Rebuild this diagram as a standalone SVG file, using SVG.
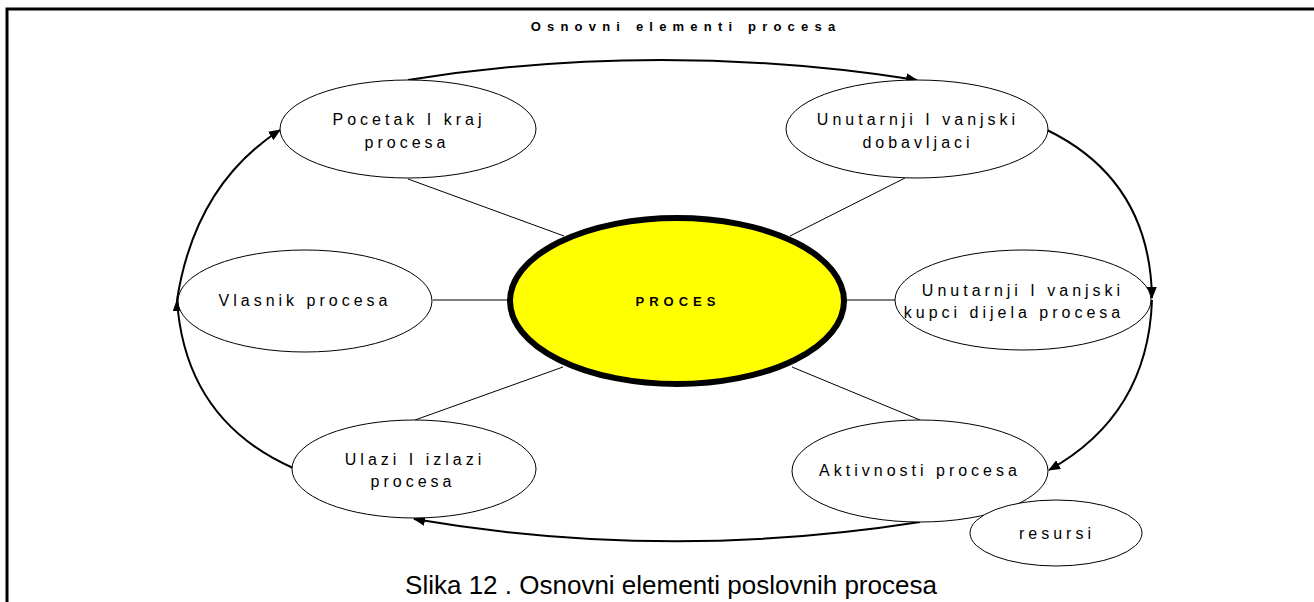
<svg xmlns="http://www.w3.org/2000/svg" width="1314" height="602" viewBox="0 0 1314 602">
<style>
.node{fill:#fff;stroke:#000;stroke-width:1}
.lbl{font-family:"Liberation Sans",Arial,sans-serif;font-size:16px;letter-spacing:4px;text-anchor:middle;fill:#000}
.link{stroke:#000;stroke-width:1;fill:none}
.arc{stroke:#000;stroke-width:2;fill:none;marker-end:url(#ah)}
</style>
<defs>
<marker id="ah" markerUnits="userSpaceOnUse" markerWidth="12" markerHeight="10" refX="11" refY="5" orient="auto">
<path d="M0,0 L12,5 L0,10 z" fill="#000"/>
</marker>
</defs>
<rect width="1314" height="602" fill="#fff"/>
<path d="M7 602 V9 H1314" fill="none" stroke="#000" stroke-width="3"/>
<text x="686" y="31" font-family="'Liberation Sans',Arial,sans-serif" font-size="13" font-weight="bold" letter-spacing="6.2" text-anchor="middle">Osnovni elementi procesa</text>
<g id="connectors">
<line class="link" x1="408" y1="179" x2="564" y2="236"/>
<line class="link" x1="905" y1="178" x2="790" y2="236"/>
<line class="link" x1="433" y1="300" x2="509" y2="300"/>
<line class="link" x1="845" y1="300" x2="895" y2="300"/>
<line class="link" x1="563" y1="367" x2="415" y2="420"/>
<line class="link" x1="792" y1="367" x2="920" y2="420"/>
<path class="arc" d="M408 80 Q660 40 917 80"/>
<path class="arc" d="M1047 130 Q1150 180 1152 298"/>
<path class="arc" d="M1152 300 Q1148 415 1049 470"/>
<path class="arc" d="M920 522 Q665 562 414 519"/>
<path class="arc" d="M293 468 Q185 420 177 300"/>
<path class="arc" d="M177 300 Q195 185 280 130"/>
</g>
<g id="pocetak">
<ellipse class="node" cx="408" cy="129" rx="128" ry="49"/>
<text class="lbl" x="409" y="125">Pocetak I kraj</text>
<text class="lbl" x="407" y="148">procesa</text>
</g>
<g id="dobavljaci">
<ellipse class="node" cx="917" cy="129" rx="131" ry="49"/>
<text class="lbl" x="918" y="125">Unutarnji I vanjski</text>
<text class="lbl" x="918" y="148">dobavljaci</text>
</g>
<g id="vlasnik">
<ellipse class="node" cx="305" cy="301" rx="127" ry="51"/>
<text class="lbl" x="305" y="306">Vlasnik procesa</text>
</g>
<g id="kupci">
<ellipse class="node" cx="1023" cy="300" rx="128" ry="50"/>
<text class="lbl" x="1023" y="296">Unutarnji I vanjski</text>
<text class="lbl" x="1014" y="318">kupci dijela procesa</text>
</g>
<g id="ulazi">
<ellipse class="node" cx="414" cy="469" rx="122" ry="49"/>
<text class="lbl" x="415" y="465">Ulazi I izlazi</text>
<text class="lbl" x="413" y="487">procesa</text>
</g>
<g id="aktivnosti">
<ellipse class="node" cx="920" cy="471" rx="128" ry="51"/>
<text class="lbl" x="920" y="476">Aktivnosti procesa</text>
</g>
<g id="resursi">
<ellipse class="node" cx="1056" cy="533" rx="86" ry="33"/>
<text class="lbl" x="1057" y="539">resursi</text>
</g>
<g id="proces">
<ellipse cx="677" cy="301" rx="167" ry="83" fill="#ffff00" stroke="#000" stroke-width="6"/>
<text x="678" y="306" font-family="'Liberation Sans',Arial,sans-serif" font-size="13" font-weight="bold" letter-spacing="5" text-anchor="middle">PROCES</text>
</g>
<text x="671" y="594" font-family="'Liberation Sans',Arial,sans-serif" font-size="26" text-anchor="middle">Slika 12 . Osnovni elementi poslovnih procesa</text>
</svg>
